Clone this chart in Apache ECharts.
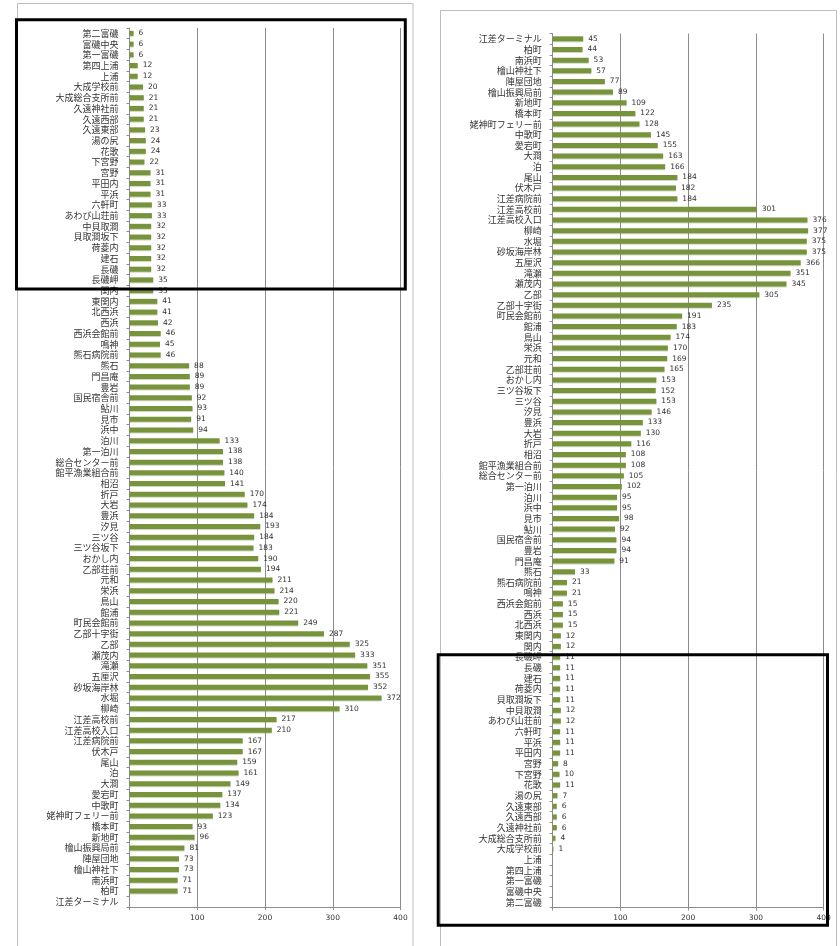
<!DOCTYPE html>
<html>
<head>
<meta charset="utf-8">
<script src="https://cdn.jsdelivr.net/npm/echarts@6/dist/echarts.min.js"></script>
<style>
  html, body { margin: 0; padding: 0; background: #fff; }
  #chart { width: 840px; height: 946px; }
</style>
</head>
<body>
<div id="chart"></div>
<script>
// Bus stops, 江差 bound: from 第二富磯 to 江差ターミナル
const stopsToEsashi = [
  '第二富磯', '富磯中央', '第一富磯', '第四上浦', '上浦', '大成学校前', '大成総合支所前',
  '久遠神社前', '久遠西部', '久遠東部', '湯の尻', '花歌', '下宮野', '宮野', '平田内', '平浜',
  '六軒町', 'あわび山荘前', '中貝取澗', '貝取澗坂下', '荷菱内', '建石', '長磯', '長磯岬',
  '関内', '東関内', '北西浜', '西浜', '西浜会館前', '鳴神', '熊石病院前', '熊石', '門昌庵',
  '豊岩', '国民宿舎前', '鮎川', '見市', '浜中', '泊川', '第一泊川', '総合センター前',
  '館平漁業組合前', '相沼', '折戸', '大岩', '豊浜', '汐見', '三ツ谷', '三ツ谷坂下', 'おかし内',
  '乙部荘前', '元和', '栄浜', '鳥山', '館浦', '町民会館前', '乙部十字街', '乙部', '瀬茂内',
  '滝瀬', '五厘沢', '砂坂海岸林', '水堀', '柳崎', '江差高校前', '江差高校入口', '江差病院前',
  '伏木戸', '尾山', '泊', '大澗', '愛宕町', '中歌町', '姥神町フェリー前', '橋本町', '新地町',
  '檜山振興局前', '陣屋団地', '檜山神社下', '南浜町', '柏町', '江差ターミナル'
];

// Riders on board leaving each stop, 江差 bound
const towardEsashi = [
  6, 6, 6, 12, 12, 20, 21, 21, 21, 23, 24, 24, 22, 31, 31, 31,
  33, 33, 32, 32, 32, 32, 32, 35, 35, 41, 41, 42, 46, 45, 46, 88, 89,
  89, 92, 93, 91, 94, 133, 138, 138, 140, 141, 170, 174, 184, 193, 184, 183, 190,
  194, 211, 214, 220, 221, 249, 287, 325, 333, 351, 355, 352, 372, 310, 217, 210, 167,
  167, 159, 161, 149, 137, 134, 123, 93, 96, 81, 73, 73, 71, 71, null
];

// Bus stops, 富磯 bound: from 江差ターミナル to 第二富磯
const stopsToTomiiso = [
  '江差ターミナル', '柏町', '南浜町', '檜山神社下', '陣屋団地', '檜山振興局前', '新地町',
  '橋本町', '姥神町フェリー前', '中歌町', '愛宕町', '大澗', '泊', '尾山', '伏木戸',
  '江差病院前', '江差高校前', '江差高校入口', '柳崎', '水堀', '砂坂海岸林', '五厘沢', '滝瀬',
  '瀬茂内', '乙部', '乙部十字街', '町民会館前', '館浦', '鳥山', '栄浜', '元和', '乙部荘前',
  'おかし内', '三ツ谷坂下', '三ツ谷', '汐見', '豊浜', '大岩', '折戸', '相沼', '館平漁業組合前',
  '総合センター前', '第一泊川', '泊川', '浜中', '見市', '鮎川', '国民宿舎前', '豊岩', '門昌庵',
  '熊石', '熊石病院前', '鳴神', '西浜会館前', '西浜', '北西浜', '東関内', '関内', '長磯岬',
  '長磯', '建石', '荷菱内', '貝取澗坂下', '中貝取澗', 'あわび山荘前', '六軒町', '平浜',
  '平田内', '宮野', '下宮野', '花歌', '湯の尻', '久遠東部', '久遠西部', '久遠神社前',
  '大成総合支所前', '大成学校前', '上浦', '第四上浦', '第一富磯', '富磯中央', '第二富磯'
];

// Riders on board leaving each stop, 富磯 bound
const towardTomiiso = [
  45, 44, 53, 57, 77, 89, 109, 122, 128, 145, 155, 163, 166, 184, 182, 184,
  301, 376, 377, 375, 375, 366, 351, 345, 305, 235, 191, 183, 174, 170, 169, 165,
  153, 152, 153, 146, 133, 130, 116, 108, 108, 105, 102, 95, 95, 98, 92, 94, 94, 91,
  33, 21, 21, 15, 15, 15, 12, 12, 11, 11, 11, 11, 11, 12, 12, 11, 11, 11, 8, 10, 11,
  7, 6, 6, 6, 4, 1, null, null, null, null, null
];

// Value axis ticks
const xTicks = [0, 100, 200, 300, 400];

const BAR = '#77933C';
const GRID_LINE = '#8c8c8c';
const JP_FONT = '"Noto Sans CJK JP", sans-serif';
const NUM_FONT = '"DejaVu Sans", sans-serif';

function valueAxis(gridIndex) {
  return {
    type: 'value',
    gridIndex: gridIndex,
    min: xTicks[0],
    max: xTicks[xTicks.length - 1],
    interval: xTicks[1] - xTicks[0],
    axisLine: { show: true, lineStyle: { color: GRID_LINE, width: 1 } },
    axisTick: { show: true, length: 3, lineStyle: { color: GRID_LINE } },
    splitLine: { show: true, lineStyle: { color: GRID_LINE, width: 1 } },
    axisLabel: {
      fontFamily: NUM_FONT, fontSize: 7.5, color: '#333', margin: 7,
      formatter: v => (v === 0 ? '' : String(v))
    }
  };
}

function categoryAxis(gridIndex, names) {
  return {
    type: 'category',
    gridIndex: gridIndex,
    data: names,
    inverse: true,
    axisLine: { show: true, lineStyle: { color: GRID_LINE, width: 1 } },
    axisTick: { show: true, length: 3, lineStyle: { color: GRID_LINE } },
    axisLabel: {
      interval: 0, fontFamily: JP_FONT, fontSize: 9, color: '#333', margin: 11
    }
  };
}

function barSeries(idx, values) {
  return {
    type: 'bar',
    xAxisIndex: idx,
    yAxisIndex: idx,
    data: values,
    barWidth: 5,
    itemStyle: {
      color: BAR,
      shadowColor: 'rgba(120,140,80,0.35)',
      shadowOffsetY: 1,
      shadowBlur: 0
    },
    label: {
      show: true,
      position: 'right',
      distance: 5,
      fontFamily: NUM_FONT,
      fontSize: 7.5,
      color: '#333',
      formatter: p => (p.value == null ? '' : String(p.value))
    },
    silent: true,
    animation: false
  };
}

const chart = echarts.init(document.getElementById('chart'), null, { renderer: 'canvas' });

chart.setOption({
  backgroundColor: '#ffffff',
  animation: false,
  grid: [
    { left: 129.5, top: 28, width: 271, height: 879 },
    { left: 552.7, top: 33.5, width: 271, height: 874 }
  ],
  xAxis: [valueAxis(0), valueAxis(1)],
  yAxis: [categoryAxis(0, stopsToEsashi), categoryAxis(1, stopsToTomiiso)],
  series: [barSeries(0, towardEsashi), barSeries(1, towardTomiiso)],
  graphic: [
    // panel frames
    { type: 'rect', silent: true, z: -1,
      shape: { x: 17.5, y: 3.5, width: 395.5, height: 1000 },
      style: { fill: null, stroke: '#bdbdbd', lineWidth: 1 } },
    { type: 'rect', silent: true, z: -1,
      shape: { x: 440.5, y: 10.5, width: 396, height: 1000 },
      style: { fill: null, stroke: '#bdbdbd', lineWidth: 1 } },
    // highlighted ranges
    { type: 'rect', silent: true, z: 100,
      shape: { x: 16.5, y: 19.8, width: 388.8, height: 269.2 },
      style: { fill: null, stroke: '#000', lineWidth: 3 } },
    { type: 'rect', silent: true, z: 100,
      shape: { x: 438.2, y: 654.7, width: 389.3, height: 270.5 },
      style: { fill: null, stroke: '#000', lineWidth: 3 } }
  ]
});
</script>
</body>
</html>
